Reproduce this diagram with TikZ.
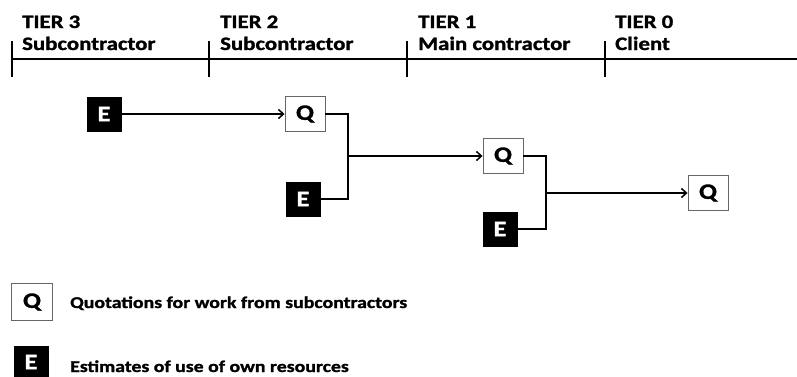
\documentclass[tikz,border=0pt]{standalone}
\usepackage{fontspec}
\setmainfont{Carlito}
\newfontfamily\heavy[BoldFont={* Bold},BoldFeatures={FakeBold=1.2}]{Carlito}
\usetikzlibrary{arrows.meta}
\newcommand{\hstretch}[1]{\scalebox{1.2}[1]{#1}}
\begin{document}
\begin{tikzpicture}[x=1pt,y=-1pt,
  ebox/.style={fill=black,text=white,font=\heavy\bfseries\fontsize{22}{22}\selectfont,inner sep=0pt,minimum width=35pt,minimum height=35pt},
  qbox/.style={draw=black!60,line width=0.9pt,fill=white,font=\heavy\bfseries\fontsize{22}{22}\selectfont,inner sep=0pt,minimum width=40pt,minimum height=35pt},
  tier/.style={anchor=base west,font=\heavy\bfseries\fontsize{19}{19}\selectfont,inner sep=0pt},
  legend/.style={anchor=base west,font=\heavy\bfseries\fontsize{16.5}{16.5}\selectfont,inner sep=0pt},
  tick/.style={line width=2.6pt},
  conn/.style={line width=1.5pt},
  arr/.style={conn,-{Straight Barb[length=5pt,width=9pt,line width=1.5pt]}}]
\useasboundingbox (0,0) rectangle (797,376);
% timeline
\coordinate (tl) at (12,59);
\coordinate (tr) at (797,59);
\draw[line width=2.4pt] (tl) -- (tr);
\foreach \x in {12,209,407,605}{\draw[tick] (\x,41) -- (\x,77);}
\node[tier] (t3a) at (22,28) {\hstretch{TIER 3}};
\node[tier] (t3b) at (22,50) {\hstretch{Subcontractor}};
\node[tier] (t2a) at (220,28) {\hstretch{TIER 2}};
\node[tier] (t2b) at (220,50) {\hstretch{Subcontractor}};
\node[tier] (t1a) at (418,28) {\hstretch{TIER 1}};
\node[tier] (t1b) at (418,50) {\hstretch{Main contractor}};
\node[tier] (t0a) at (615,28) {\hstretch{TIER 0}};
\node[tier] (t0b) at (615,50) {\hstretch{Client}};
% boxes
\node[ebox] (e1) at (104,114) {\hstretch{E}};
\node[qbox] (q1) at (305,114) {\hstretch{Q}};
\node[ebox] (e2) at (303,199) {\hstretch{E}};
\node[qbox] (q2) at (503,156) {\hstretch{Q}};
\node[ebox] (e3) at (500,229) {\hstretch{E}};
\node[qbox] (q3) at (708,193) {\hstretch{Q}};
\coordinate (j1) at (348,156);
\coordinate (j2) at (546,193);
\draw[arr] (e1) -- (q1);
\draw[conn] (q1.east) -| (j1) |- (e2.east);
\draw[arr] (j1) -- (q2.west);
\draw[conn] (q2.east) -| (j2) |- (e3.east);
\draw[arr] (j2) -- (q3.west);
% legend
\node[qbox,minimum width=41pt,minimum height=37pt] (lq) at (32,302) {\hstretch{Q}};
\node[ebox,minimum height=33pt] (le) at (31,362) {\hstretch{E}};
\node[legend] (lqt) at (70,308) {\hstretch{Quotations for work from subcontractors}};
\node[legend] (let) at (70,372) {\hstretch{Estimates of use of own resources}};
\end{tikzpicture}
\end{document}
